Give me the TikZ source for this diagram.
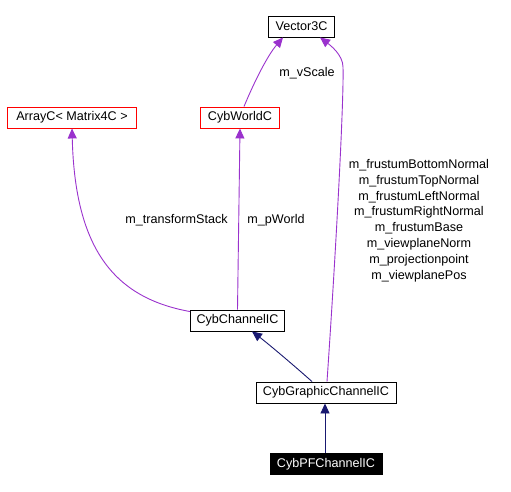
\documentclass[tikz,border=0pt]{standalone}
\usepackage{fontspec}
\setmainfont{Liberation Sans}
\usepackage{tikz}
\usetikzlibrary{arrows.meta}
\definecolor{usagepurple}{HTML}{9A32CD}
\definecolor{inheritnavy}{HTML}{191970}

\begin{document}
\begin{tikzpicture}[
    x=1pt, y=-1pt,
    font=\fontsize{12.6}{15.8}\selectfont,
    cls/.style={draw, line width=0.9pt, minimum height=21pt, inner xsep=7pt, inner ysep=0pt},
    ext/.style={cls, draw=red},
    cur/.style={cls, fill=black, text=white},
    inh/.style={-{Triangle[length=10pt,width=9pt]}, line width=0.9pt, draw=inheritnavy},
    usage/.style={-{Triangle[length=10pt,width=9pt]}, line width=0.9pt, draw=usagepurple},
    lbl/.style={align=center, inner sep=0pt}
  ]
    \useasboundingbox (0,0) rectangle (511,492);

    \node[cls] (vec) at (301.5,26.5) {Vector3C};
    \node[ext, inner xsep=8.5pt] (arr) at (72,117.5) {ArrayC< Matrix4C >};
    \node[ext] (world) at (240,117.5) {CybWorldC};
    \node[cls, inner xsep=6pt] (chan) at (237.5,320.5) {CybChannelIC};
    \node[cls] (gfx) at (326,392.5) {CybGraphicChannelIC};
    \node[cur] (pf) at (326,464) {CybPFChannelIC};

    % usage relations
    \draw[usage] ([yshift=-2pt]chan.north west) .. controls (115,298) and (75,250) .. (arr.south);
    \draw[usage] (chan.north) -- (world.south);
    \draw[usage] ([xshift=4pt]world.north) .. controls (255,80) and (268,55) .. ([xshift=-18.5pt]vec.south);
    \draw[usage] ([xshift=1pt]gfx.north) .. controls (336,250) and (344,100) .. (343,67)
      .. controls (343,55) and (330,45) .. ([xshift=18.5pt]vec.south);

    % inheritance
    \draw[inh] ([xshift=-14pt]gfx.north) .. controls (290,362) and (266,342) .. ([xshift=14.5pt]chan.south);
    \draw[inh] ([xshift=-1pt]pf.north) -- ([xshift=-1pt]gfx.south);

    \node[lbl] (lvscale) at (307,73) {m\_vScale};
    \node[lbl] (ltrans) at (176.5,220) {m\_transformStack};
    \node[lbl] (lpworld) at (276,220) {m\_pWorld};
    \node[lbl] (lfrustum) at (419,220.5) {m\_frustumBottomNormal\\m\_frustumTopNormal\\m\_frustumLeftNormal\\m\_frustumRightNormal\\m\_frustumBase\\m\_viewplaneNorm\\m\_projectionpoint\\m\_viewplanePos};
  \end{tikzpicture}
\end{document}
